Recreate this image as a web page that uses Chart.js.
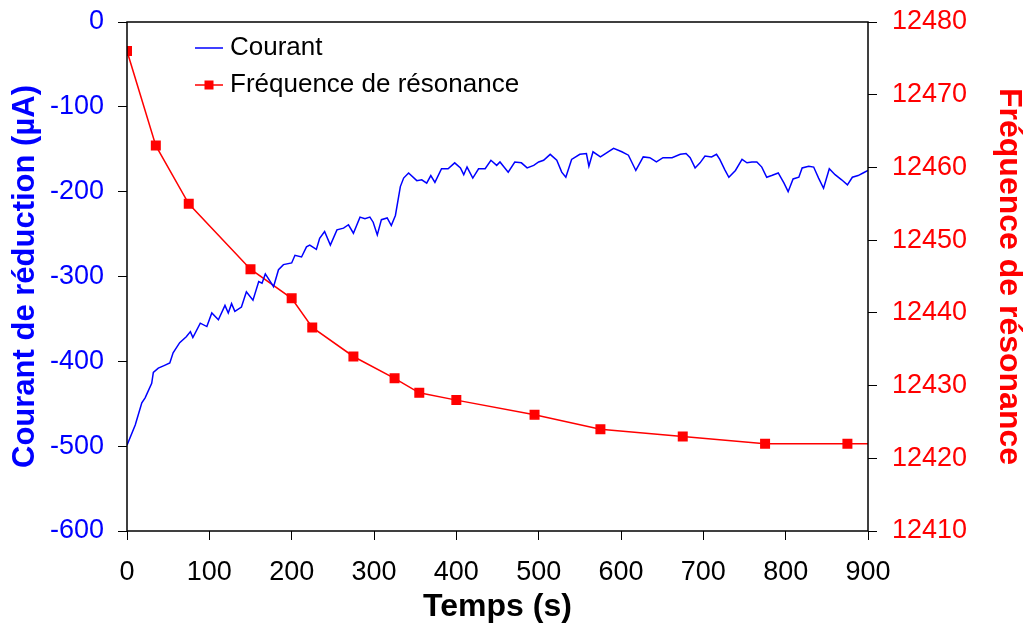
<!DOCTYPE html>
<html>
<head>
<meta charset="utf-8">
<script src="https://cdn.jsdelivr.net/npm/chart.js@4.4.0/dist/chart.umd.min.js"></script>
<style>
  html, body { margin: 0; padding: 0; background: #fff; }
</style>
</head>
<body>
<canvas id="chart" width="1025" height="626"></canvas>
<script>
var courantTemps = [0, 10, 18, 22, 30, 32, 38, 45, 52, 56, 64, 72, 77, 80, 89, 97, 103, 111, 119, 123,
  127, 131, 139, 145, 153, 160, 164, 168, 178, 184, 190, 200, 204, 212, 218, 222, 230, 234, 240, 247,
  255, 263, 269, 275, 283, 289, 295, 299, 304, 309, 316, 321, 326, 332, 336, 342, 352, 358, 364, 369,
  374, 382, 390, 398, 405, 409, 413, 420, 427, 435, 442, 449, 453, 463, 471, 479, 486, 494, 500, 506,
  514, 522, 528, 533, 540, 550, 558, 561, 566, 575, 591, 601, 609, 618, 627, 635, 643, 651, 662, 672,
  679, 684, 690, 696, 702, 710, 716, 720, 726, 731, 739, 747, 753, 759, 765, 771, 777, 783, 791, 798,
  803, 809, 816, 820, 828, 834, 840, 846, 853, 860, 868, 875, 881, 888, 894, 900];
var courantValeurs = [-499, -475, -449, -443, -426, -413, -408, -405, -402, -390, -378, -371, -365, -372, -355, -359, -343, -351, -334, -343,
  -332, -341, -336, -318, -328, -306, -308, -297, -312, -292, -286, -284, -275, -277, -265, -263, -268, -255, -247, -263,
  -245, -243, -239, -249, -230, -232, -230, -236, -251, -233, -231, -240, -228, -194, -184, -178, -187, -186, -190, -181,
  -189, -173, -173, -166, -172, -180, -171, -184, -173, -173, -163, -169, -165, -177, -165, -166, -172, -169, -165, -163,
  -156, -163, -177, -183, -162, -156, -155, -170, -153, -159, -149, -153, -157, -175, -159, -160, -165, -160, -160, -156,
  -155, -160, -172, -166, -158, -159, -156, -162, -174, -183, -175, -162, -166, -165, -165, -171, -183, -181, -178, -190,
  -200, -185, -183, -172, -170, -171, -184, -196, -173, -180, -186, -192, -183, -181, -178, -175];

// frequence de resonance (carres rouges)
var freqTemps = [0, 35, 75, 150, 200, 225, 275, 325, 355, 400, 495, 575, 675, 775, 875, 900];
var freqValeurs = [12476, 12463, 12455, 12446, 12442, 12438, 12434, 12431, 12429, 12428, 12426, 12424, 12423, 12422, 12422, 12422];

var tempsTicks = [0, 100, 200, 300, 400, 500, 600, 700, 800, 900];
var courantTicks = [-600, -500, -400, -300, -200, -100, 0];
var freqTicks = [12410, 12420, 12430, 12440, 12450, 12460, 12470, 12480];

var BLEU = '#0000ff';
var ROUGE = '#ff0000';
var POLICE = '"Liberation Sans", Arial, sans-serif';

function points(xs, ys) {
  return xs.map(function (x, i) { return { x: x, y: ys[i] }; });
}

function fixTicks(list) {
  return function (scale) {
    scale.ticks = list.map(function (v) { return { value: v }; });
  };
}

// largeur fixe pour les axes verticaux, sans marge haute/basse
function fixWidth(w) {
  return function (s) {
    s.width = w;
    s.paddingTop = 0;
    s.paddingBottom = 0;
  };
}

function brut(v) { return String(v); }

// cadre noir + legende a l'interieur du graphe
var cadreLegende = {
  id: 'cadreLegende',
  afterDatasetsDraw: function (chart) {
    var ctx = chart.ctx;
    var a = chart.chartArea;
    ctx.save();
    ctx.strokeStyle = '#000';
    ctx.lineWidth = 1.5;
    ctx.strokeRect(a.left, a.top, a.right - a.left, a.bottom - a.top);

    ctx.font = '26px ' + POLICE;
    ctx.textBaseline = 'middle';
    ctx.fillStyle = '#000';
    var lx = a.left + 68, tx = a.left + 103;
    var rows = [a.top + 26, a.top + 63];
    chart.data.datasets.forEach(function (ds, i) {
      var y = rows[i];
      ctx.strokeStyle = ds.borderColor;
      ctx.lineWidth = ds.borderWidth;
      ctx.beginPath();
      ctx.moveTo(lx, y);
      ctx.lineTo(lx + 28, y);
      ctx.stroke();
      if (i === 1) {
        ctx.fillStyle = ROUGE;
        ctx.fillRect(lx + 14 - 4.5, y - 4.5, 9, 9);
      }
      ctx.fillStyle = '#000';
      ctx.fillText(ds.label, tx, y);
    });
    ctx.restore();
  }
};

var ctx = document.getElementById('chart').getContext('2d');
var chart = new Chart(ctx, {
  type: 'line',
  data: {
    datasets: [{
      label: 'Courant',
      data: points(courantTemps, courantValeurs),
      yAxisID: 'y',
      borderColor: BLEU,
      borderWidth: 1.5,
      pointRadius: 0,
      tension: 0
    }, {
      label: 'Fréquence de résonance',
      data: points(freqTemps, freqValeurs),
      yAxisID: 'y1',
      borderColor: ROUGE,
      backgroundColor: ROUGE,
      borderWidth: 1.5,
      pointStyle: 'rect',
      pointRadius: freqTemps.map(function (t, i) { return i === freqTemps.length - 1 ? 0 : 6; }),
      tension: 0
    }]
  },
  options: {
    responsive: false,
    animation: false,
    events: [],
    layout: { padding: { top: 22, left: 0, right: 0, bottom: 0 } },
    plugins: { legend: { display: false }, tooltip: { enabled: false } },
    scales: {
      x: {
        type: 'linear',
        min: 0, max: 900,
        afterBuildTicks: fixTicks(tempsTicks),
        afterFit: function (s) { s.height = 95; s.paddingLeft = 0; s.paddingRight = 0; },
        grid: { drawOnChartArea: false, tickLength: 9, color: '#000', lineWidth: 1 },
        border: { display: false },
        ticks: { color: '#000', font: { family: POLICE, size: 27 }, padding: 16, maxRotation: 0, callback: brut },
        title: { display: true, text: 'Temps (s)', color: '#000',
          font: { family: POLICE, size: 32, weight: 'bold', lineHeight: 1 }, padding: { top: 0, bottom: 3 } }
      },
      y: {
        position: 'left',
        min: -600, max: 0,
        afterBuildTicks: fixTicks(courantTicks),
        afterFit: fixWidth(127),
        grid: { drawOnChartArea: false, tickLength: 9, color: '#000', lineWidth: 1 },
        border: { display: false },
        ticks: { color: BLEU, font: { family: POLICE, size: 27 }, padding: 14, callback: brut },
        title: { display: true, text: 'Courant de réduction (µA)', color: BLEU,
          font: { family: POLICE, size: 31, weight: 'bold', lineHeight: 1 }, padding: { top: 10, bottom: 0 } }
      },
      y1: {
        position: 'right',
        min: 12410, max: 12480,
        afterBuildTicks: fixTicks(freqTicks),
        afterFit: fixWidth(157),
        grid: { drawOnChartArea: false, tickLength: 9, color: '#000', lineWidth: 1 },
        border: { display: false },
        ticks: { color: ROUGE, font: { family: POLICE, size: 27 }, padding: 15, callback: brut },
        title: { display: true, text: 'Fréquence de résonance', color: ROUGE,
          font: { family: POLICE, size: 32, weight: 'bold', lineHeight: 1 }, padding: { top: 0, bottom: 0 } }
      }
    }
  },
  plugins: [cadreLegende]
});
</script>
</body>
</html>
